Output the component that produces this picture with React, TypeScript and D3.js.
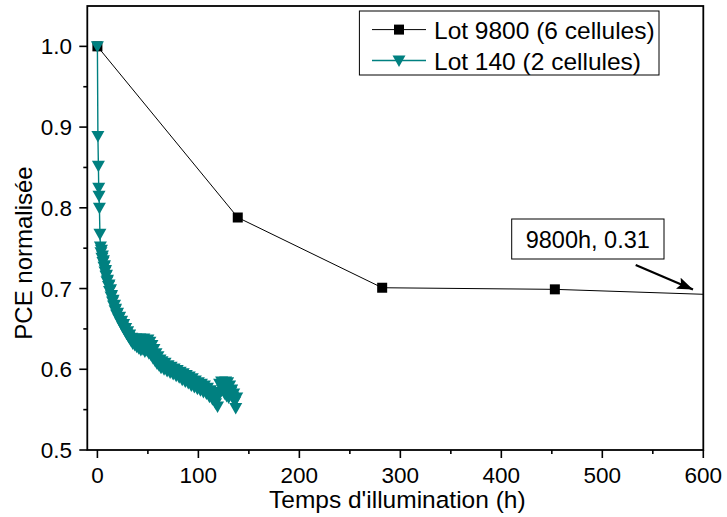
import React from "react";
import * as d3 from "d3";

const W = 727;
const H = 517;

// Lot 9800 (6 cellules)
const lot9800Hours = [0, 139, 282, 453, 9800];
const lot9800PCE = [1.0, 0.788, 0.701, 0.699, 0.31];

// Lot 140 (2 cellules)
const lot140Hours = [
  0, 0.5, 1, 1.3, 1.6, 2, 2.5, 3, 3.5, 4, 4.5, 5, 5.5, 6, 6.5, 7, 7.5, 8, 8.5, 9, 9.5, 10,
  11, 11.5, 12, 13, 13.5, 14, 15, 15.5, 16, 17, 17.5, 18, 19, 20, 21, 22, 23, 24, 25, 26,
  27, 28, 29, 30, 31, 32, 33, 34, 35, 36, 37, 38, 39, 40, 41, 42, 43, 44, 45, 46, 47, 48,
  49, 50, 51, 52, 53, 54, 55, 56, 57, 58, 59, 60, 61, 62, 63, 64, 66, 67, 69, 70, 72, 73,
  75, 76, 78, 79, 81, 82, 84, 85, 87, 88, 90, 91, 93, 94, 96, 97, 99, 100, 102, 103, 105,
  106, 108, 109, 111, 112, 114, 115, 117, 118, 119, 120, 121, 122, 123, 124, 125, 126, 127,
  128, 129, 130, 131, 132, 133, 134, 135, 136, 137, 138,
];
const lot140PCE = [
  1.0, 0.889, 0.852, 0.825, 0.815, 0.8, 0.768, 0.752, 0.745, 0.748, 0.738, 0.741, 0.733,
  0.735, 0.727, 0.729, 0.721, 0.723, 0.716, 0.717, 0.709, 0.711, 0.703, 0.705, 0.697, 0.699,
  0.69, 0.692, 0.684, 0.686, 0.679, 0.68, 0.673, 0.675, 0.668, 0.67, 0.663, 0.665, 0.658,
  0.66, 0.653, 0.656, 0.649, 0.651, 0.644, 0.647, 0.64, 0.643, 0.636, 0.639, 0.632, 0.637,
  0.63, 0.638, 0.628, 0.637, 0.626, 0.638, 0.624, 0.636, 0.625, 0.638, 0.622, 0.636, 0.624,
  0.637, 0.62, 0.634, 0.618, 0.63, 0.614, 0.625, 0.611, 0.62, 0.607, 0.616, 0.605, 0.612,
  0.602, 0.61, 0.6, 0.608, 0.598, 0.605, 0.596, 0.603, 0.594, 0.601, 0.592, 0.599, 0.59,
  0.597, 0.587, 0.595, 0.585, 0.593, 0.583, 0.591, 0.58, 0.589, 0.578, 0.586, 0.576, 0.584,
  0.574, 0.582, 0.572, 0.58, 0.57, 0.577, 0.566, 0.574, 0.563, 0.571, 0.558, 0.566, 0.554,
  0.568, 0.582, 0.572, 0.585, 0.575, 0.584, 0.57, 0.585, 0.567, 0.584, 0.565, 0.58, 0.572,
  0.575, 0.566, 0.57, 0.56, 0.552, 0.565,
];

const xTicks = [0, 100, 200, 300, 400, 500, 600];
const xMinorTicks = [50, 150, 250, 350, 450, 550];
const yTicks = [0.5, 0.6, 0.7, 0.8, 0.9, 1.0];
const yMinorTicks = [0.55, 0.65, 0.75, 0.85, 0.95];

const seriesNames = ["Lot 9800 (6 cellules)", "Lot 140 (2 cellules)"];
const annotationText = "9800h, 0.31";
const xTitle = "Temps d'illumination (h)";
const yTitle = "PCE normalisée";

const TEAL = "#008080";
const FONT = "'Liberation Sans', Arial, sans-serif";

const plot = { left: 87.3, right: 703.3, top: 6, bottom: 450 };

const tri = "M-6.5,-5L6.5,-5L0,6.5Z";

export default function App() {
  const x = d3.scaleLinear().domain([-10, 600]).range([plot.left, plot.right]);
  const y = d3.scaleLinear().domain([0.5, 1.05]).range([plot.bottom, plot.top]);

  const black = lot9800Hours.map((t, i) => [t, lot9800PCE[i]] as [number, number]);
  const teal = lot140Hours.map((t, i) => [t, lot140PCE[i]] as [number, number]);

  const line = d3
    .line<[number, number]>()
    .x((d) => x(d[0]))
    .y((d) => y(d[1]));

  return (
    <svg
      width={W}
      height={H}
      style={{ position: "absolute", left: 0, top: 0, background: "#fff" }}
      fontFamily={FONT}
    >
      <defs>
        <clipPath id="plotClip">
          <rect x={plot.left} y={plot.top} width={plot.right - plot.left} height={plot.bottom - plot.top} />
        </clipPath>
        <marker id="arrowHead" viewBox="0 0 16 12" refX="16" refY="6" markerWidth="16" markerHeight="12" orient="auto" markerUnits="userSpaceOnUse">
          <path d="M0,0L16,6L0,12L3,6Z" fill="#000" />
        </marker>
      </defs>

      {/* frame */}
      <rect
        x={plot.left}
        y={plot.top}
        width={plot.right - plot.left}
        height={plot.bottom - plot.top}
        fill="none"
        stroke="#000"
        strokeWidth={1.8}
      />

      {/* y ticks */}
      {yTicks.map((v) => (
        <g key={"y" + v}>
          <line x1={plot.left - 8} x2={plot.left} y1={y(v)} y2={y(v)} stroke="#000" strokeWidth={1.6} />
          <text x={72} y={y(v) + 8} textAnchor="end" fontSize={22.5}>
            {v.toFixed(1)}
          </text>
        </g>
      ))}
      {yMinorTicks.map((v) => (
        <line key={"ym" + v} x1={plot.left - 4} x2={plot.left} y1={y(v)} y2={y(v)} stroke="#000" strokeWidth={1.6} />
      ))}

      {/* x ticks */}
      {xTicks.map((v) => (
        <g key={"x" + v}>
          <line x1={x(v)} x2={x(v)} y1={plot.bottom} y2={plot.bottom + 8} stroke="#000" strokeWidth={1.6} />
          <text x={x(v)} y={483} textAnchor="middle" fontSize={22.5}>
            {v}
          </text>
        </g>
      ))}
      {xMinorTicks.map((v) => (
        <line key={"xm" + v} x1={x(v)} x2={x(v)} y1={plot.bottom} y2={plot.bottom + 4} stroke="#000" strokeWidth={1.6} />
      ))}

      {/* axis titles */}
      <text x={(plot.left + plot.right) / 2 + 2} y={508} textAnchor="middle" fontSize={24.5}>
        {xTitle}
      </text>
      <text transform={`translate(32,253) rotate(-90)`} textAnchor="middle" fontSize={24}>
        {yTitle}
      </text>

      {/* data */}
      <g clipPath="url(#plotClip)">
        <path d={line(black) || ""} fill="none" stroke="#000" strokeWidth={1} />
        <path d={line(teal) || ""} fill="none" stroke={TEAL} strokeWidth={1.4} />
        {black.map((d, i) => (
          <rect key={"b" + i} x={x(d[0]) - 5} y={y(d[1]) - 5} width={10} height={10} fill="#000" />
        ))}
        {teal.map((d, i) => (
          <path key={"t" + i} d={tri} transform={`translate(${x(d[0])},${y(d[1])})`} fill={TEAL} />
        ))}
      </g>

      {/* annotation */}
      <rect x={511.7} y={219} width={152.3} height={40} fill="#fff" stroke="#000" strokeWidth={1} />
      <text x={587.8} y={248} textAnchor="middle" fontSize={23.5}>
        {annotationText}
      </text>
      <line x1={635.7} y1={265} x2={693} y2={289.5} stroke="#000" strokeWidth={2.2} markerEnd="url(#arrowHead)" />

      {/* legend */}
      <rect x={359.4} y={11} width={299.6} height={64} fill="#fff" stroke="#000" strokeWidth={1} />
      <line x1={372} x2={426} y1={29.6} y2={29.6} stroke="#000" strokeWidth={1} />
      <rect x={399 - 5} y={29.6 - 5} width={10} height={10} fill="#000" />
      <text x={434} y={38.5} fontSize={24.5}>
        {seriesNames[0]}
      </text>
      <line x1={372} x2={426} y1={60.5} y2={60.5} stroke={TEAL} strokeWidth={1.4} />
      <path d={tri} transform={`translate(399,60.5)`} fill={TEAL} />
      <text x={434} y={70} fontSize={24.5}>
        {seriesNames[1]}
      </text>
    </svg>
  );
}
